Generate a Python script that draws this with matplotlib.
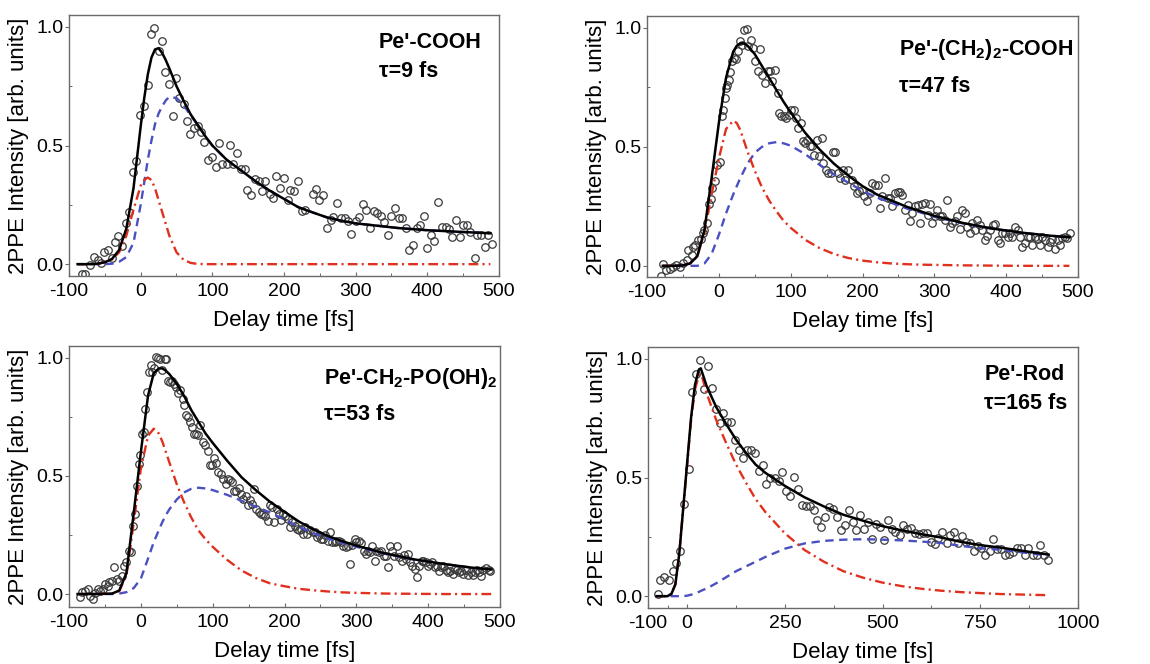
import numpy as np
import matplotlib.pyplot as plt
from matplotlib.ticker import MultipleLocator, FixedLocator

plt.rcParams['font.family'] = ['Liberation Sans', 'DejaVu Sans']
plt.rcParams['mathtext.fontset'] = 'custom'
plt.rcParams['mathtext.rm'] = 'Liberation Sans'
plt.rcParams['mathtext.bf'] = 'Liberation Sans:bold'
plt.rcParams['lines.scale_dashes'] = False
plt.rcParams['axes.unicode_minus'] = False

# ---- panel 1: Pe'-COOH ----
x1 = [-82, -77, -71, -65, -60, -56, -51, -46, -40, -36,
      -31, -26, -21, -16, -11, -6, -1, 5, 10, 14,
      19, 25, 30, 34, 40, 45, 49, 54, 60, 65,
      69, 74, 80, 84, 89, 94, 100, 105, 109, 114,
      120, 125, 129, 134, 140, 145, 149, 154, 160, 165,
      169, 174, 180, 184, 189, 194, 200, 205, 209, 214,
      220, 225, 229, 240, 245, 249, 254, 260, 265, 269,
      274, 280, 285, 289, 294, 300, 305, 310, 315, 320,
      325, 330, 335, 340, 345, 350, 355, 360, 365, 370,
      375, 380, 385, 390, 395, 400, 405, 410, 415, 420,
      426, 430, 435, 440, 446, 450, 455, 460, 466, 470,
      475, 480, 485, 490]
y1 = [-0.04, -0.04, -0.005, 0.03, 0.018, 0.005, 0.05, 0.058, 0.028, 0.093,
      0.12, 0.075, 0.175, 0.22, 0.39, 0.435, 0.63, 0.665, 0.755, 0.97,
      0.997, 0.90, 0.94, 0.81, 0.76, 0.625, 0.785, 0.70, 0.673, 0.605,
      0.547, 0.575, 0.582, 0.555, 0.516, 0.438, 0.452, 0.411, 0.509, 0.424,
      0.424, 0.504, 0.424, 0.47, 0.401, 0.401, 0.314, 0.29, 0.36, 0.352,
      0.31, 0.352, 0.296, 0.279, 0.373, 0.322, 0.362, 0.27, 0.313, 0.31,
      0.352, 0.226, 0.23, 0.296, 0.316, 0.27, 0.292, 0.151, 0.184, 0.2,
      0.257, 0.194, 0.194, 0.18, 0.128, 0.18, 0.2, 0.252, 0.229, 0.154,
      0.226, 0.217, 0.203, 0.178, 0.123, 0.203, 0.237, 0.194, 0.194, 0.154,
      0.06, 0.081, 0.154, 0.164, 0.203, 0.067, 0.123, 0.098, 0.26, 0.158,
      0.158, 0.147, 0.114, 0.187, 0.114, 0.164, 0.164, 0.136, 0.028, 0.123,
      0.123, 0.074, 0.123, 0.084]
t1 = [-88, -70, -60, -50, -40, -30, -20, -10, 0, 5, 10, 15, 20, 25, 30, 35,
      40, 50, 60, 70, 80, 90, 100, 120, 140, 160, 180, 200, 220, 240, 260,
      280, 300, 330, 360, 400, 440, 488]
fit1 = [0, 0, 0.002, 0.008, 0.022, 0.06, 0.15, 0.32, 0.58, 0.70, 0.80, 0.87,
        0.905, 0.91, 0.89, 0.86, 0.825, 0.75, 0.688, 0.63, 0.586, 0.54, 0.50,
        0.44, 0.395, 0.35, 0.31, 0.275, 0.24, 0.218, 0.197, 0.183, 0.172,
        0.162, 0.152, 0.143, 0.137, 0.13]
slow1 = [0, 0, 0, 0, 0.002, 0.01, 0.03, 0.09, 0.25, 0.345, 0.44, 0.52, 0.59,
         0.635, 0.665, 0.69, 0.705, 0.70, 0.67, 0.625, 0.585, 0.54, 0.50,
         0.44, 0.395, 0.35, 0.31, 0.275, 0.24, 0.218, 0.197, 0.183, 0.172,
         0.162, 0.152, 0.143, 0.137, 0.13]
fast1 = [0, 0, 0.002, 0.008, 0.02, 0.05, 0.12, 0.23, 0.33, 0.355, 0.365, 0.355,
         0.32, 0.27, 0.22, 0.17, 0.12, 0.05, 0.018, 0.005, 0.001, 0, 0,
         0, 0, 0, 0, 0, 0, 0, 0, 0, 0, 0, 0, 0, 0, 0]

# ---- panel 2: Pe'-(CH2)2-COOH ----
x2 = [-81, -78, -73, -68, -64, -59, -54, -50, -45, -43,
      -38, -36, -33, -29, -25, -22, -20, -17, -14, -11,
      -9, -5, -2, 1, 4, 6, 8, 10, 12, 14,
      16, 19, 21, 24, 27, 29, 32, 35, 39, 41,
      45, 48, 51, 55, 57, 60, 64, 68, 71, 74,
      78, 82, 84, 87, 91, 94, 97, 101, 104, 107,
      110, 114, 117, 120, 123, 127, 130, 133, 136, 139,
      143, 145, 149, 152, 156, 159, 162, 166, 169, 173,
      176, 180, 185, 188, 192, 195, 199, 202, 206, 210,
      213, 217, 221, 224, 227, 231, 235, 238, 241, 245,
      249, 252, 255, 259, 263, 266, 269, 273, 277, 280,
      283, 287, 291, 294, 297, 301, 304, 308, 311, 315,
      318, 322, 325, 329, 332, 336, 339, 343, 346, 349,
      353, 356, 360, 363, 367, 370, 374, 377, 381, 384,
      388, 391, 394, 398, 402, 405, 408, 412, 416, 419,
      422, 426, 430, 433, 436, 440, 444, 447, 450, 454,
      458, 461, 464, 468, 472, 475, 478, 482, 485, 489]
y2 = [-0.042, 0.007, -0.017, -0.014, -0.003, 0.004, -0.003, 0.011, 0.025, 0.067,
      0.046, 0.081, 0.088, 0.109, 0.112, 0.137, 0.151, 0.18, 0.26, 0.28,
      0.327, 0.355, 0.425, 0.435, 0.628, 0.656, 0.705, 0.748, 0.762, 0.783,
      0.813, 0.86, 0.874, 0.87, 0.902, 0.944, 0.93, 0.99, 0.996, 0.923,
      0.951, 0.916, 0.86, 0.818, 0.912, 0.804, 0.769, 0.82, 0.818, 0.776,
      0.822, 0.727, 0.642, 0.628, 0.628, 0.621, 0.635, 0.656, 0.656, 0.621,
      0.579, 0.60, 0.523, 0.516, 0.53, 0.502, 0.502, 0.467, 0.53, 0.46,
      0.537, 0.432, 0.404, 0.39, 0.39, 0.477, 0.477, 0.39, 0.369, 0.404,
      0.362, 0.404, 0.362, 0.334, 0.306, 0.313, 0.32, 0.292, 0.271, 0.306,
      0.348, 0.341, 0.341, 0.243, 0.292, 0.369, 0.285, 0.285, 0.25, 0.306,
      0.309, 0.309, 0.299, 0.236, 0.257, 0.187, 0.222, 0.25, 0.257, 0.18,
      0.261, 0.264, 0.215, 0.261, 0.182, 0.21, 0.233, 0.208, 0.21, 0.194,
      0.278, 0.165, 0.18, 0.187, 0.208, 0.154, 0.233, 0.222, 0.165, 0.14,
      0.182, 0.151, 0.194, 0.172, 0.151, 0.109, 0.126, 0.151, 0.172, 0.177,
      0.109, 0.095, 0.137, 0.137, 0.121, 0.137, 0.123, 0.165, 0.151, 0.121,
      0.081, 0.095, 0.121, 0.123, 0.088, 0.123, 0.112, 0.088, 0.121, 0.109,
      0.081, 0.102, 0.112, 0.07, 0.109, 0.088, 0.116, 0.123, 0.116, 0.137]
t2 = [-78, -60, -50, -40, -30, -20, -10, 0, 10, 20, 25, 30, 35, 40, 50, 60,
      70, 80, 90, 100, 120, 140, 160, 180, 200, 220, 240, 260, 280, 300, 340,
      380, 420, 460, 488]
fit2 = [0, 0, 0.002, 0.01, 0.04, 0.15, 0.37, 0.60, 0.79, 0.90, 0.925, 0.935,
        0.935, 0.925, 0.89, 0.84, 0.79, 0.74, 0.69, 0.645, 0.56, 0.49, 0.43,
        0.38, 0.335, 0.30, 0.275, 0.25, 0.23, 0.21, 0.18, 0.157, 0.14, 0.127,
        0.12]
slow2 = [0, 0, 0, 0, 0, 0.01, 0.05, 0.13, 0.22, 0.30, 0.335, 0.37, 0.40, 0.43,
         0.475, 0.50, 0.515, 0.52, 0.515, 0.505, 0.47, 0.425, 0.385, 0.35,
         0.315, 0.287, 0.265, 0.243, 0.225, 0.206, 0.178, 0.156, 0.14, 0.127,
         0.12]
fast2 = [0, 0, 0.002, 0.01, 0.04, 0.14, 0.30, 0.45, 0.575, 0.61, 0.60, 0.57,
         0.525, 0.48, 0.40, 0.33, 0.275, 0.23, 0.19, 0.16, 0.11, 0.075, 0.05,
         0.033, 0.022, 0.015, 0.01, 0.007, 0.005, 0.004, 0.002, 0.001, 0, 0, 0]

# ---- panel 3: Pe'-CH2-PO(OH)2 ----
x3 = [-85, -82, -78, -74, -71, -67, -64, -60, -57, -53,
      -50, -46, -44, -40, -37, -33, -30, -26, -23, -20,
      -17, -14, -11, -8, -6, -3, -1, 1, 4, 6,
      9, 12, 14, 16, 19, 21, 24, 27, 30, 33,
      35, 38, 41, 44, 46, 49, 52, 55, 58, 60,
      63, 66, 69, 71, 74, 77, 80, 83, 86, 90,
      93, 96, 99, 102, 105, 108, 112, 114, 118, 121,
      124, 127, 130, 133, 136, 139, 142, 146, 149, 152,
      155, 158, 161, 164, 167, 170, 173, 177, 180, 183,
      186, 189, 192, 195, 198, 201, 205, 207, 211, 214,
      217, 220, 223, 226, 229, 232, 235, 239, 242, 245,
      248, 251, 254, 257, 260, 263, 266, 270, 272, 276,
      279, 282, 285, 288, 291, 294, 298, 300, 304, 307,
      310, 313, 316, 319, 322, 326, 328, 332, 335, 338,
      341, 344, 347, 350, 353, 356, 360, 363, 366, 369,
      372, 375, 378, 381, 384, 387, 391, 393, 397, 400,
      403, 406, 409, 412, 415, 418, 421, 425, 428, 431,
      434, 437, 440, 443, 446, 449, 452, 456, 459, 462,
      465, 468, 471, 474, 477, 480, 484, 486]
y3 = [-0.014, 0.007, 0.014, 0.021, -0.007, -0.021, 0.004, 0.021, 0.014, 0.021,
      0.042, 0.035, 0.052, 0.057, 0.113, 0.064, 0.057, 0.078, 0.117, 0.134,
      0.184, 0.18, 0.29, 0.34, 0.457, 0.552, 0.587, 0.679, 0.686, 0.785,
      0.856, 0.94, 0.968, 0.94, 0.955, 1.004, 1.0, 0.997, 0.948, 0.997,
      0.997, 0.90, 0.898, 0.90, 0.891, 0.877, 0.849, 0.863, 0.827, 0.799,
      0.76, 0.75, 0.728, 0.707, 0.679, 0.679, 0.672, 0.714, 0.644, 0.629,
      0.604, 0.547, 0.547, 0.576, 0.556, 0.516, 0.509, 0.488, 0.467, 0.488,
      0.481, 0.474, 0.438, 0.438, 0.448, 0.424, 0.403, 0.417, 0.375, 0.396,
      0.382, 0.443, 0.361, 0.347, 0.34, 0.34, 0.332, 0.311, 0.375, 0.368,
      0.304, 0.361, 0.34, 0.315, 0.34, 0.332, 0.318, 0.283, 0.304, 0.29,
      0.276, 0.269, 0.276, 0.255, 0.283, 0.255, 0.269, 0.262, 0.262, 0.24,
      0.25, 0.233, 0.233, 0.248, 0.226, 0.264, 0.222, 0.219, 0.226, 0.226,
      0.219, 0.205, 0.198, 0.205, 0.127, 0.208, 0.231, 0.219, 0.226, 0.216,
      0.184, 0.17, 0.184, 0.177, 0.205, 0.141, 0.184, 0.177, 0.184, 0.16,
      0.163, 0.113, 0.205, 0.184, 0.163, 0.202, 0.156, 0.141, 0.165, 0.149,
      0.17, 0.134, 0.12, 0.106, 0.071, 0.12, 0.141, 0.141, 0.134, 0.12,
      0.127, 0.134, 0.113, 0.12, 0.099, 0.113, 0.12, 0.103, 0.092, 0.099,
      0.085, 0.106, 0.103, 0.095, 0.099, 0.085, 0.103, 0.081, 0.092, 0.081,
      0.092, 0.103, 0.092, 0.078, 0.103, 0.109, 0.103, 0.099]
t3 = [-88, -60, -40, -30, -20, -10, 0, 10, 18, 25, 30, 35, 40, 50, 60, 70,
      80, 90, 100, 120, 140, 160, 180, 200, 220, 240, 260, 280, 300, 340,
      380, 420, 460, 488]
fit3 = [0, 0, 0.002, 0.015, 0.09, 0.34, 0.60, 0.84, 0.935, 0.955, 0.955,
        0.945, 0.93, 0.89, 0.84, 0.78, 0.73, 0.68, 0.64, 0.565, 0.495, 0.44,
        0.39, 0.348, 0.307, 0.274, 0.246, 0.224, 0.205, 0.172, 0.147, 0.128,
        0.112, 0.104]
slow3 = [0, 0, 0, 0.002, 0.008, 0.025, 0.065, 0.15, 0.22, 0.27, 0.305, 0.335,
         0.36, 0.40, 0.43, 0.445, 0.45, 0.447, 0.44, 0.42, 0.395, 0.37, 0.345,
         0.315, 0.285, 0.258, 0.235, 0.217, 0.2, 0.17, 0.146, 0.128, 0.112,
         0.104]
fast3 = [0, 0, 0.002, 0.012, 0.08, 0.30, 0.53, 0.67, 0.70, 0.68, 0.645, 0.60,
         0.555, 0.465, 0.39, 0.325, 0.27, 0.232, 0.20, 0.145, 0.10, 0.068,
         0.045, 0.033, 0.022, 0.016, 0.011, 0.007, 0.005, 0.002, 0.001, 0, 0,
         0]

# ---- panel 4: Pe'-Rod ----
x4 = [-75, -69, -58, -47, -37, -28, -18, -7, 4, 12,
      23, 34, 43, 53, 63, 73, 83, 93, 103, 113,
      123, 133, 144, 153, 163, 173, 183, 193, 203, 213,
      224, 234, 244, 253, 264, 274, 284, 293, 304, 314,
      324, 333, 343, 353, 363, 373, 384, 393, 403, 413,
      424, 433, 443, 453, 464, 473, 483, 493, 504, 513,
      523, 533, 544, 553, 563, 573, 584, 593, 603, 613,
      624, 633, 643, 653, 664, 673, 683, 693, 704, 713,
      723, 733, 743, 753, 763, 774, 783, 793, 803, 813,
      823, 833, 844, 854, 864, 873, 884, 894, 904, 913,
      924]
y4 = [0.01, 0.07, 0.08, 0.066, 0.104, 0.14, 0.192, 0.389, 0.536, 0.86,
      0.937, 0.997, 0.874, 0.969, 0.876, 0.789, 0.73, 0.772, 0.733, 0.733,
      0.66, 0.614, 0.581, 0.614, 0.614, 0.604, 0.529, 0.551, 0.473, 0.497,
      0.497, 0.487, 0.522, 0.445, 0.421, 0.501, 0.452, 0.385, 0.379, 0.382,
      0.365, 0.319, 0.291, 0.334, 0.376, 0.368, 0.333, 0.277, 0.298, 0.365,
      0.312, 0.277, 0.343, 0.284, 0.312, 0.242, 0.305, 0.291, 0.235, 0.319,
      0.284, 0.27, 0.256, 0.298, 0.284, 0.287, 0.267, 0.263, 0.267, 0.267,
      0.228, 0.221, 0.244, 0.27, 0.225, 0.258, 0.27, 0.225, 0.253, 0.23,
      0.225, 0.192, 0.211, 0.202, 0.174, 0.192, 0.242, 0.199, 0.199, 0.174,
      0.178, 0.185, 0.202, 0.202, 0.174, 0.202, 0.174, 0.174, 0.216, 0.174,
      0.154]
t4 = [-78, -50, -40, -30, -20, -10, 0, 10, 20, 30, 35, 40, 50, 75, 100, 125,
      150, 175, 200, 250, 300, 350, 400, 450, 500, 550, 600, 650, 700, 750,
      800, 850, 900, 925]
fit4 = [0, 0, 0.01, 0.05, 0.18, 0.37, 0.56, 0.75, 0.89, 0.955, 0.96, 0.935,
        0.885, 0.795, 0.725, 0.66, 0.605, 0.555, 0.52, 0.465, 0.417, 0.378,
        0.343, 0.318, 0.295, 0.277, 0.261, 0.247, 0.229, 0.215, 0.205, 0.193,
        0.181, 0.175]
slow4 = [0, 0, 0, 0, 0, 0, 0.002, 0.006, 0.012, 0.018, 0.022, 0.026, 0.032,
         0.055, 0.08, 0.105, 0.125, 0.145, 0.165, 0.2, 0.222, 0.233, 0.238,
         0.24, 0.238, 0.235, 0.23, 0.224, 0.212, 0.202, 0.196, 0.186, 0.176,
         0.171]
fast4 = [0, 0, 0.01, 0.05, 0.18, 0.37, 0.55, 0.74, 0.87, 0.93, 0.935, 0.915,
         0.855, 0.74, 0.645, 0.555, 0.48, 0.41, 0.355, 0.265, 0.195, 0.145,
         0.105, 0.078, 0.057, 0.042, 0.031, 0.023, 0.017, 0.013, 0.009, 0.007,
         0.005, 0.004]

names = ["Pe'-COOH",
         r"Pe'-(CH$_\mathbf{2}$)$_\mathbf{2}$-COOH",
         r"Pe'-CH$_\mathbf{2}$-PO(OH)$_\mathbf{2}$",
         "Pe'-Rod"]
taus = ["\u03c4=9 fs", "\u03c4=47 fs", "\u03c4=53 fs", "\u03c4=165 fs"]

BLUE = '#4a50c0'
RED = '#e0301e'
FRAME = '#6a6a6a'

fig = plt.figure(figsize=(11.5, 6.64), dpi=100)

panels = [
    # axes rect, data, xlim, ylim, text positions (x, y_name, y_tau)
    ([0.060, 0.5843, 0.3739, 0.3931], (x1, y1, t1, fit1, slow1, fast1), (-100, 500), (-0.05, 1.05), (0.720, 0.893, 0.782)),
    ([0.5626, 0.5828, 0.3748, 0.3931], (x2, y2, t2, fit2, slow2, fast2), (-100, 500), (-0.047, 1.05), (0.585, 0.870, 0.728)),
    ([0.060, 0.0858, 0.3748, 0.3931], (x3, y3, t3, fit3, slow3, fast3), (-100, 500), (-0.055, 1.05), (0.592, 0.874, 0.739)),
    ([0.5635, 0.0843, 0.3739, 0.3931], (x4, y4, t4, fit4, slow4, fast4), (-100, 1000), (-0.05, 1.05), (0.782, 0.893, 0.782)),
]

for i, (rect, d, xl, yl, tp) in enumerate(panels):
    xs, ys, t, fit, slow, fast = d
    ax = fig.add_axes(rect)
    ax.plot(xs, ys, 'o', mfc='none', mec='#3a3a3a', ms=5.4, mew=0.9, zorder=2)
    ax.plot(t, slow, color=BLUE, lw=1.7, dashes=(6, 4), zorder=3)
    ax.plot(t, fast, color=RED, lw=1.7, dashes=(7, 3, 1.5, 3), zorder=3)
    ax.plot(t, fit, color='black', lw=1.8, zorder=4)

    ax.set_xlim(*xl)
    ax.set_ylim(*yl)
    if i == 3:
        ax.xaxis.set_major_locator(FixedLocator([-100, 0, 250, 500, 750, 1000]))
        ax.xaxis.set_minor_locator(FixedLocator([-50, 125, 375, 625, 875]))
    else:
        ax.xaxis.set_major_locator(MultipleLocator(100))
        ax.xaxis.set_minor_locator(MultipleLocator(50))
    ax.set_yticks([0, 0.5, 1.0])
    ax.set_yticklabels(['0.0', '0.5', '1.0'])
    ax.yaxis.set_minor_locator(FixedLocator([0.25, 0.75]))

    for s in ax.spines.values():
        s.set_color(FRAME)
        s.set_linewidth(1.0)
    ax.tick_params(axis='x', which='major', direction='in', length=3, width=0.8,
                   color=FRAME, labelsize=14, pad=5)
    ax.tick_params(axis='y', which='major', direction='out', length=3, width=0.8,
                   color=FRAME, labelsize=14, pad=1)
    ax.tick_params(which='minor', direction='in', length=2.5, width=0.7, color=FRAME)

    ax.set_xlabel('Delay time [fs]', fontsize=16, labelpad=7)
    ax.set_ylabel('2PPE Intensity [arb. units]', fontsize=16, labelpad=5)

    ax.text(tp[0], tp[1], names[i], transform=ax.transAxes, fontsize=15.5,
            fontweight='bold', ha='left', va='center')
    ax.text(tp[0], tp[2], taus[i], transform=ax.transAxes, fontsize=15.5,
            fontweight='bold', ha='left', va='center')

fig.savefig('out.png', dpi=100)
